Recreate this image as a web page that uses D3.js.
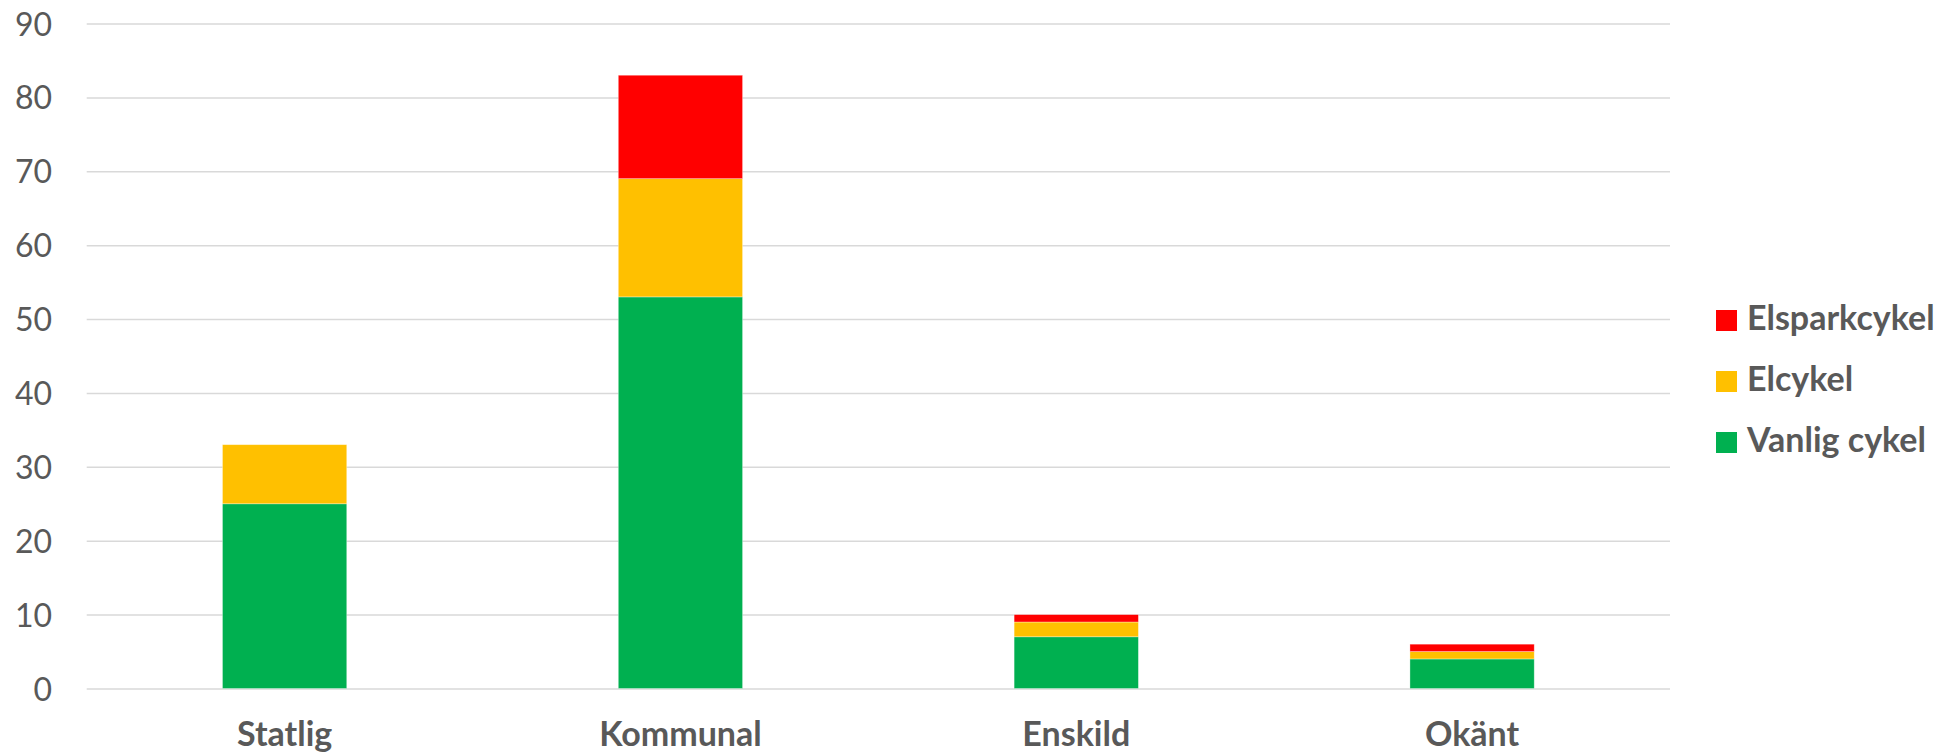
<!DOCTYPE html>
<html>
<head>
<meta charset="utf-8">
<script src="https://cdn.jsdelivr.net/npm/d3@7"></script>
<style>
  html, body { margin: 0; padding: 0; background: #fff; }
  svg { display: block; }
</style>
</head>
<body>
<svg id="chart" width="1944" height="755"></svg>
<script>
const categories = ["Statlig", "Kommunal", "Enskild", "Okänt"];
const seriesNames = ["Vanlig cykel", "Elcykel", "Elsparkcykel"];
const vanligCykel = [25, 53, 7, 4];
const elcykel = [8, 16, 2, 1];
const elsparkcykel = [0, 14, 1, 1];
const seriesColors = ["#00B050", "#FFC000", "#FF0000"];
const yTicks = [0, 10, 20, 30, 40, 50, 60, 70, 80, 90];

(function () {
const rows = categories.map((c, i) => ({
  cat: c,
  "Vanlig cykel": vanligCykel[i],
  "Elcykel": elcykel[i],
  "Elsparkcykel": elsparkcykel[i]
}));

const svg = d3.select("#chart");
const plotL = 86.7, plotR = 1670, plotT = 23.5, plotB = 688.5;

const x = d3.scaleBand().domain(categories).range([plotL, plotR])
  .paddingInner(0.686).paddingOuter(0.343);
const y = d3.scaleLinear().domain([0, 90]).range([plotB, plotT]);

// gridlines
const grid = d3.axisLeft(y).tickValues(yTicks).tickSize(-(plotR - plotL)).tickFormat("");
const gg = svg.append("g").attr("transform", `translate(${plotL},0)`).call(grid);
gg.select(".domain").remove();
gg.selectAll("line").attr("stroke", "#D9D9D9").attr("stroke-width", 1.5);

// y tick labels
const ya = d3.axisLeft(y).tickValues(yTicks).tickSize(0).tickPadding(0);
const yg = svg.append("g").attr("transform", "translate(52,0)").call(ya);
yg.select(".domain").remove();
yg.selectAll("text")
  .attr("font-family", "Lato, 'Open Sans', sans-serif")
  .attr("font-size", 32)
  .attr("fill", "#595959")
  .attr("dy", "0.36em");

// stacked bars
const stack = d3.stack().keys(seriesNames);
const layers = stack(rows);
svg.append("g").selectAll("g").data(layers).join("g")
  .attr("fill", (d, i) => seriesColors[i])
  .selectAll("rect").data(d => d).join("rect")
  .attr("x", d => x(d.data.cat))
  .attr("width", x.bandwidth())
  .attr("y", d => y(d[1]))
  .attr("height", d => y(d[0]) - y(d[1]))
  .attr("stroke", "#ffffff")
  .attr("stroke-opacity", 0.45)
  .attr("stroke-width", 0.75);

// x labels
const xa = d3.axisBottom(x).tickSize(0).tickPadding(0);
const xg = svg.append("g").attr("transform", `translate(0,${plotB})`).call(xa);
xg.select(".domain").remove();
xg.selectAll("text")
  .attr("font-family", "Lato, 'Open Sans', sans-serif")
  .attr("font-size", 34)
  .attr("font-weight", "bold")
  .attr("fill", "#595959")
  .attr("dy", null)
  .attr("y", 57.5);

// legend (top to bottom: Elsparkcykel, Elcykel, Vanlig cykel)
const legendOrder = [2, 1, 0];
const lg = svg.append("g");
const ly = d3.scaleBand().domain(legendOrder).range([310, 493]);
legendOrder.forEach(i => {
  const g = lg.append("g").attr("transform", `translate(1716,${ly(i)})`);
  g.append("rect").attr("width", 21).attr("height", 21).attr("fill", seriesColors[i]);
  g.append("text").attr("x", 31).attr("y", 19.5)
    .attr("font-family", "Lato, 'Open Sans', sans-serif")
    .attr("font-size", 34)
    .attr("font-weight", "bold")
    .attr("fill", "#595959")
    .text(seriesNames[i]);
});
})();
</script>
</body>
</html>
